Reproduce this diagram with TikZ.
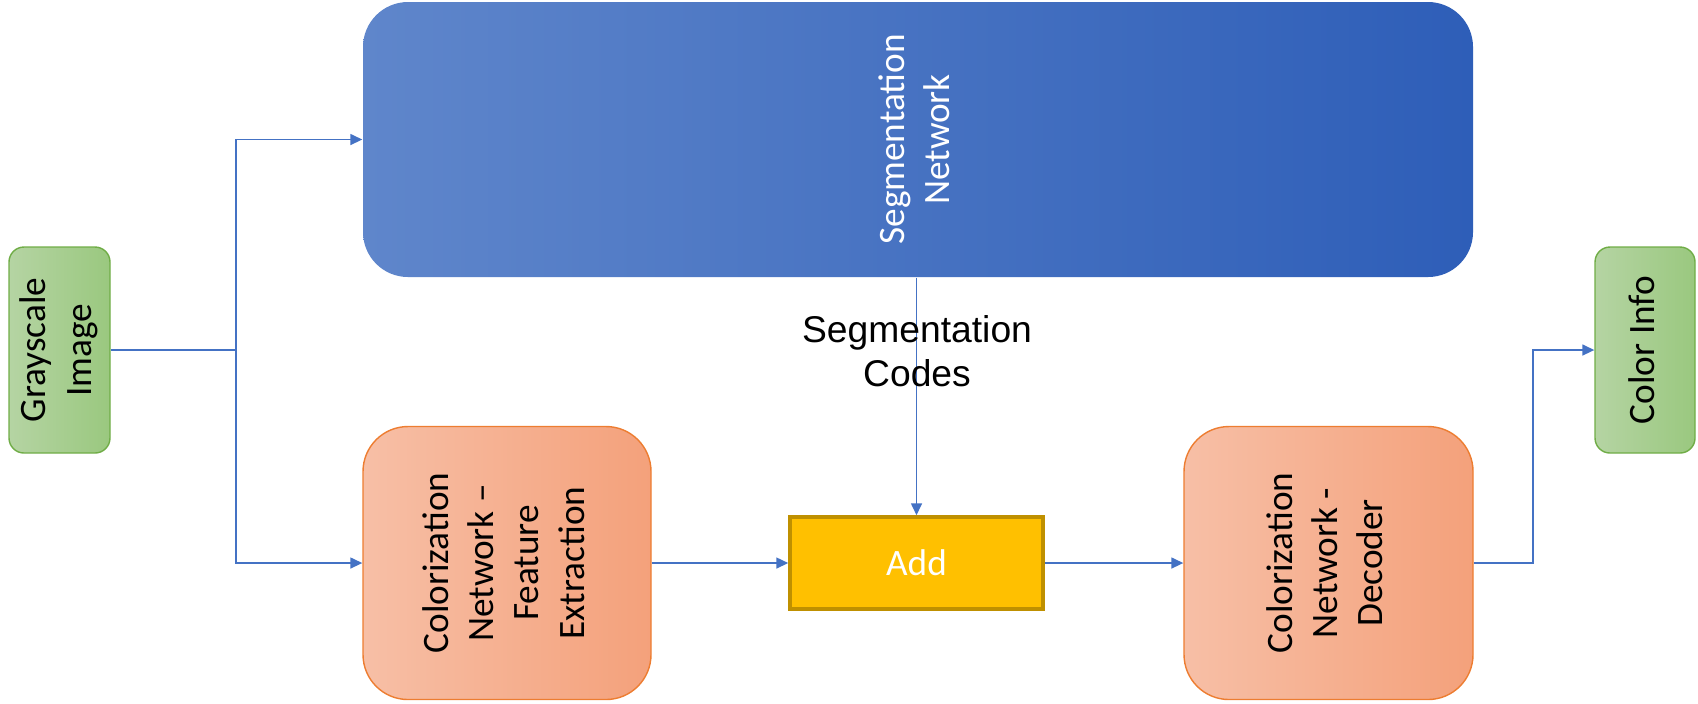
\documentclass[tikz,border=0pt]{standalone}
\usepackage{fontspec}
\setmainfont{Carlito}
\newfontfamily\arialfont{Liberation Sans}
\usepackage{graphicx}
\usetikzlibrary{arrows.meta}
\definecolor{linkblue}{HTML}{4472C4}
\definecolor{segleft}{HTML}{5F86CB}
\definecolor{segright}{HTML}{2E5EB8}
\definecolor{greenleft}{HTML}{B5D4A3}
\definecolor{greenright}{HTML}{9AC87F}
\definecolor{greenline}{HTML}{70AD47}
\definecolor{orangeleft}{HTML}{F7BFA6}
\definecolor{orangeright}{HTML}{F4A17B}
\definecolor{orangeline}{HTML}{ED7D31}
\definecolor{addfill}{HTML}{FFC000}
\definecolor{addline}{HTML}{BF9000}
\newcommand{\vtext}[1]{\rotatebox{90}{\begin{tabular}{@{}c@{}}#1\end{tabular}}}
\begin{document}
\begin{tikzpicture}[
  font=\fontsize{10.6}{12.9}\selectfont,
  link/.style={draw=linkblue, line width=0.45pt, -{Triangle[length=0.12cm,width=0.11cm]}},
  plain/.style={draw=linkblue, line width=0.45pt},
  endbox/.style={draw=greenline, line width=0.4pt, rounded corners=0.15cm, left color=greenleft, right color=greenright, inner sep=0pt},
  netbox/.style={draw=orangeline, line width=0.4pt, rounded corners=0.45cm, left color=orangeleft, right color=orangeright, inner sep=0pt}
]
\path[use as bounding box] (0,0) rectangle (16.98,-7.03);

\node[endbox, minimum width=1.01cm, minimum height=2.06cm] (gray) at (0.595,-3.50) {\vtext{Grayscale\\Image}};
\node[rounded corners=0.45cm, left color=segleft, right color=segright, inner sep=0pt, minimum width=11.10cm, minimum height=2.75cm, text=white] (seg) at (9.18,-1.395) {\vtext{Segmentation\\Network}};
\node[netbox, minimum width=2.88cm, minimum height=2.73cm] (fe) at (5.07,-5.63) {\vtext{Colorization\\Network --\\Feature\\Extraction}};
\node[draw=addline, line width=1pt, fill=addfill, inner sep=0pt, minimum width=2.53cm, minimum height=0.92cm, text=white] (add) at (9.165,-5.63) {Add};
\node[netbox, minimum width=2.89cm, minimum height=2.73cm] (dec) at (13.285,-5.63) {\vtext{Colorization\\Network -\\Decoder}};
\node[endbox, minimum width=1.00cm, minimum height=2.06cm] (info) at (16.45,-3.50) {\vtext{Color Info}};

\coordinate (split) at (2.36,-3.50);
\coordinate (turn) at (15.33,-3.50);

\path[plain] (gray.east) -- (split);
\path[link] (split) |- (seg.west);
\path[link] (split) |- (fe.west);
\path[link] (seg.south -| add.north) -- (add.north);
\path[link] (fe.east) -- (add.west);
\path[link] (add.east) -- (dec.west);
\path[link] (dec.east) -| (turn) -- (info.west);

\node[font=\arialfont\fontsize{10.6}{12.5}\selectfont, align=center] (codes) at (9.17,-3.51) {Segmentation\\Codes};
\end{tikzpicture}
\end{document}
